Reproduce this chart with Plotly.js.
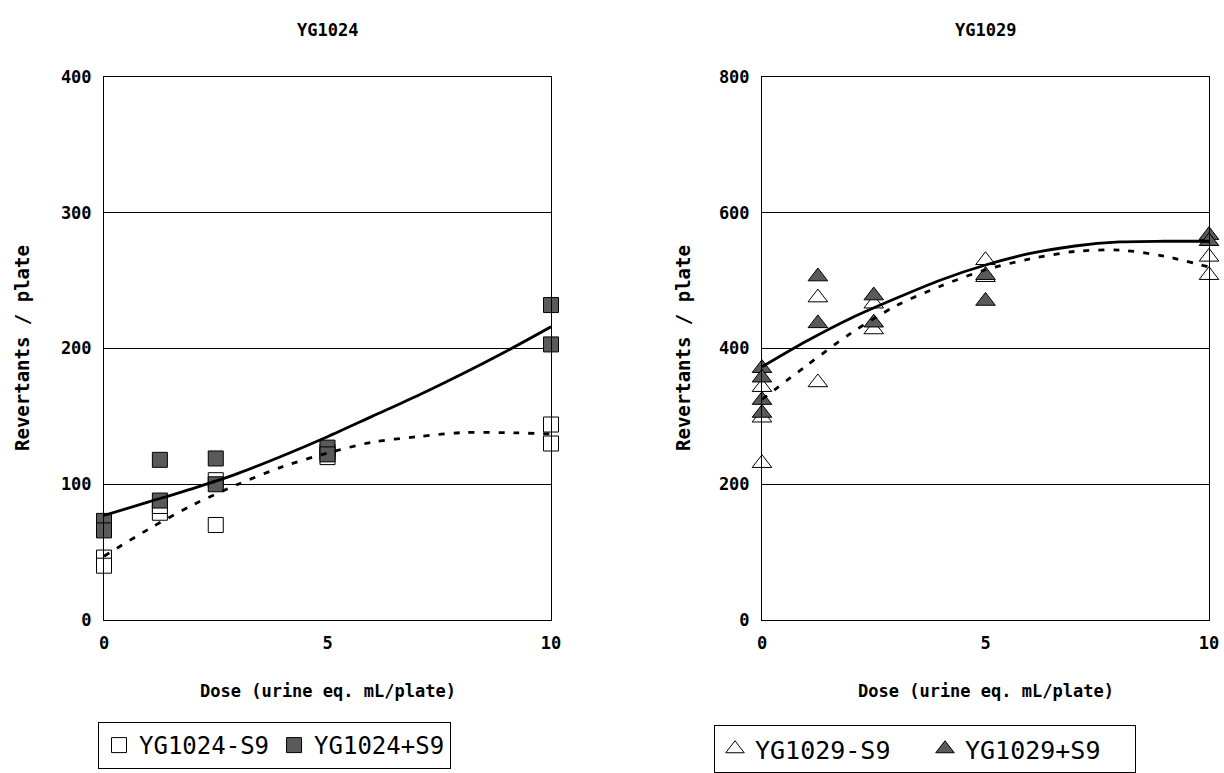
<!DOCTYPE html>
<html>
<head>
<meta charset="utf-8">
<script src="https://cdn.plot.ly/plotly-3.0.1.min.js"></script>
<style>html,body{margin:0;padding:0;background:#fff;}#chart{width:1224px;height:773px;}</style>
</head>
<body>
<div id="chart"></div>
<script>
// ---- Data ----
const titles = ['YG1024', 'YG1029'];
const xAxisTitle = 'Dose (urine eq. mL/plate)';
const yAxisTitle = 'Revertants / plate';
const xTickVals = [0, 5, 10];
const leftYTicks = [0, 100, 200, 300, 400];
const rightYTicks = [0, 200, 400, 600, 800];

// YG1024 -S9 (open squares)
const yg1024MinusX = [0, 0, 1.25, 1.25, 2.5, 2.5, 5, 5, 10, 10];
const yg1024MinusY = [46, 40, 79, 84, 103, 70, 124, 120, 144, 130];
// YG1024 +S9 (filled squares)
const yg1024PlusX = [0, 0, 1.25, 1.25, 2.5, 2.5, 5, 5, 10, 10];
const yg1024PlusY = [73, 66, 118, 88, 119, 100, 127, 122, 232, 203];

// Trend curves (read at these doses)
const trendX = [0, 1, 2, 3, 4, 5, 6, 7, 8, 9, 10];
const yg1024PlusTrend = [77, 87, 97, 108, 121, 135, 150, 165, 181, 198, 216];
const yg1024MinusTrend = [47, 67, 85, 100, 113, 123, 131, 135, 138, 138, 137];

// YG1029 -S9 (open triangles)
const yg1029MinusX = [0, 0, 0, 1.25, 1.25, 2.5, 2.5, 5, 5, 10, 10];
const yg1029MinusY = [343, 298, 231, 475, 350, 466, 428, 530, 505, 535, 508];
// YG1029 +S9 (filled triangles)
const yg1029PlusX = [0, 0, 0, 0, 1.25, 1.25, 2.5, 2.5, 5, 5, 10, 10];
const yg1029PlusY = [371, 357, 324, 305, 506, 437, 478, 438, 508, 470, 567, 558];

const yg1029PlusTrend = [373, 411, 445, 474, 501, 523, 540, 551, 557, 558, 558];
const yg1029MinusTrend = [325, 375, 423, 463, 492, 516, 532, 543, 545, 536, 520];

// ---- Styles ----
const FONT = 'DejaVu Sans Mono, Liberation Mono, monospace';
const GRAY = '#5a5a5a';

function markerTrace(x, y, name, symbol, fill, xa, ya, legend) {
  return {
    type: 'scatter', mode: 'markers', x: x, y: y, name: name,
    xaxis: xa, yaxis: ya, legend: legend, cliponaxis: false,
    marker: {symbol: symbol, size: symbol.indexOf('triangle') === 0 ? 17 : 15,
             color: fill, line: {color: '#000', width: 1}}
  };
}
function lineTrace(x, y, dash, xa, ya) {
  return {
    type: 'scatter', mode: 'lines', x: x, y: y, showlegend: false,
    xaxis: xa, yaxis: ya, hoverinfo: 'skip', cliponaxis: false,
    line: {color: '#000', width: 2.8, dash: dash, shape: 'spline', smoothing: 0.8}
  };
}

const data = [
  markerTrace(yg1024MinusX, yg1024MinusY, 'YG1024-S9', 'square', '#fff', 'x', 'y', 'legend'),
  markerTrace(yg1024PlusX, yg1024PlusY, 'YG1024+S9', 'square', GRAY, 'x', 'y', 'legend'),
  lineTrace(trendX, yg1024PlusTrend, 'solid', 'x', 'y'),
  lineTrace(trendX, yg1024MinusTrend, '6px,9px', 'x', 'y'),
  markerTrace(yg1029MinusX, yg1029MinusY, 'YG1029-S9', 'triangle-up', '#fff', 'x2', 'y2', 'legend2'),
  markerTrace(yg1029PlusX, yg1029PlusY, 'YG1029+S9', 'triangle-up', GRAY, 'x2', 'y2', 'legend2'),
  lineTrace(trendX, yg1029PlusTrend, 'solid', 'x2', 'y2'),
  lineTrace(trendX, yg1029MinusTrend, '6px,9px', 'x2', 'y2')
];

const W = 1224, H = 773;
const yDom = [1 - 620 / H, 1 - 77 / H];
const boldFont = (size) => ({family: FONT, size: size, color: '#000', weight: 'bold'});

function xAxis(dom, anchor) {
  return {
    domain: dom, anchor: anchor, range: [0, 10], tickvals: xTickVals,
    showgrid: false, zeroline: false, showline: true, linecolor: '#000', linewidth: 1, mirror: true,
    ticks: '', ticklabelstandoff: 8, tickfont: boldFont(17)
  };
}
function yAxis(ticks, anchor) {
  return {
    domain: yDom, anchor: anchor, range: [0, ticks[ticks.length - 1]], tickvals: ticks,
    showgrid: true, gridcolor: '#000', gridwidth: 1,
    zeroline: false, showline: true, linecolor: '#000', linewidth: 1, mirror: true,
    ticks: '', ticklabelstandoff: 8, tickfont: boldFont(17)
  };
}

const legendStyle = (x, y, size, entrywidth) => {
  const l = {
    x: x, y: y, xanchor: 'left', yanchor: 'top', orientation: 'h',
    bordercolor: '#000', borderwidth: 1, bgcolor: '#fff',
    font: {family: FONT, size: size, color: '#000'},
    itemwidth: 30, itemclick: false, itemdoubleclick: false
  };
  if (entrywidth) { l.entrywidth = entrywidth; l.entrywidthmode = 'pixels'; }
  return l;
};

function ann(text, x, y, size, angle) {
  return {text: text, xref: 'paper', yref: 'paper', x: x / W, y: 1 - y / H,
          xanchor: 'center', yanchor: 'middle', showarrow: false, textangle: angle || 0,
          font: boldFont(size)};
}

const layout = {
  width: W, height: H,
  margin: {l: 0, r: 0, t: 0, b: 0},
  paper_bgcolor: '#fff', plot_bgcolor: '#fff',
  showlegend: true,
  xaxis: xAxis([104 / W, 551 / W], 'y'),
  yaxis: yAxis(leftYTicks, 'x'),
  xaxis2: xAxis([762 / W, 1209 / W], 'y2'),
  yaxis2: yAxis(rightYTicks, 'x2'),
  legend: legendStyle(98 / W, 1 - 722 / H, 24, 0),
  legend2: legendStyle(714 / W, 1 - 725 / H, 25, 165),
  annotations: [
    ann(titles[0], 327.5, 30, 17),
    ann(titles[1], 985.5, 30, 17),
    ann(xAxisTitle, 327.5, 691, 17),
    ann(xAxisTitle, 985.5, 691, 17),
    ann(yAxisTitle, 22, 348, 19, -90),
    ann(yAxisTitle, 683, 348, 19, -90)
  ]
};

Plotly.newPlot('chart', data, layout, {staticPlot: true, displayModeBar: false});
</script>
</body>
</html>
